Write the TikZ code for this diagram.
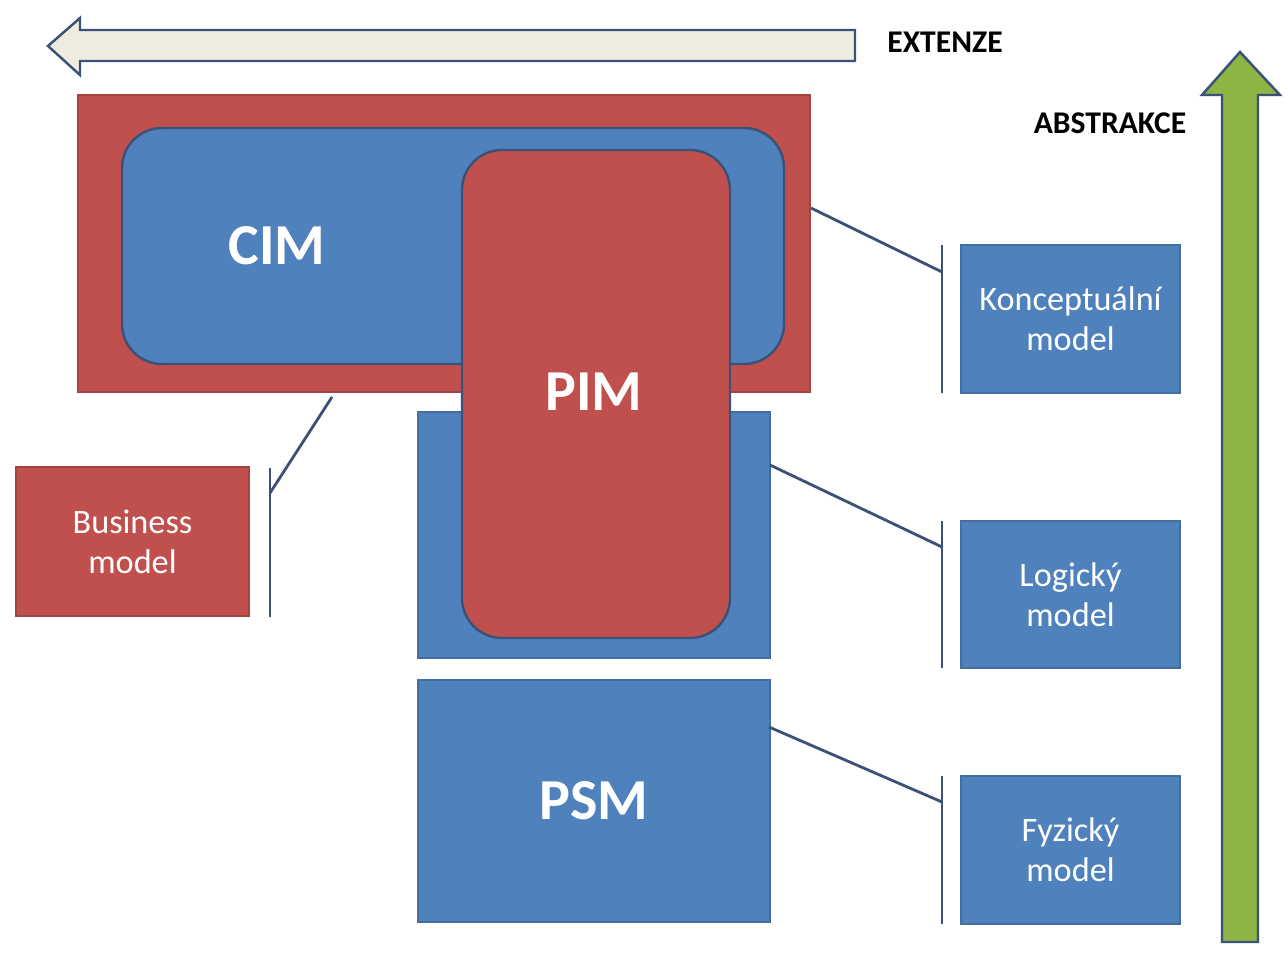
\documentclass[tikz,border=0pt]{standalone}
\usepackage{fontspec}
\setmainfont{Carlito}
\usetikzlibrary{fit}
\definecolor{cred}{HTML}{C0504D}
\definecolor{cblue}{HTML}{4F81BD}
\definecolor{navy}{HTML}{3B5178}
\definecolor{beige}{HTML}{EEECE1}
\definecolor{agreen}{HTML}{8DB444}
\begin{document}
\begin{tikzpicture}[x=0.02cm,y=-0.02cm,
  box/.style={inner sep=0pt, line width=0.6pt},
  redbox/.style={box, fill=cred, draw=cred!85!black},
  bluebox/.style={box, fill=cblue, draw=cblue!85!black},
  rnd/.style={rounded corners=0.8cm, line width=1.4pt, draw=navy},
  big/.style={text=white, font=\bfseries\fontsize{33}{36}\selectfont},
  lbl/.style={text=white, align=center, font=\fontsize{19.5}{22.7}\selectfont},
  head/.style={text=black, font=\bfseries\fontsize{18}{20}\selectfont},
  conn/.style={draw=navy, line width=1.6pt},
  blockarrow/.style={draw=navy, line width=1.4pt, line join=miter}]
\useasboundingbox (0,0) rectangle (1288,956);
% direction arrows
\draw[blockarrow, fill=beige] (855,30) -- (80,30) -- (80,18) -- (48,46) -- (80,75) -- (80,61) -- (855,61) -- cycle;
\node[head] (ext) at (945,42) {EXTENZE};
\draw[blockarrow, fill=agreen] (1222,942) -- (1222,95) -- (1202,95) -- (1240,52) -- (1280,95) -- (1258,95) -- (1258,942) -- cycle;
\node[head] (abs) at (1110,123) {ABSTRAKCE};
% CIM
\node[redbox, fit={(78,95) (810,392)}] (cimo) {};
\node[bluebox, rnd, fit={(122,128) (784,364)}] (cimi) {};
\node[big] (cimt) at (277,246) {CIM};
% PIM
\node[bluebox, fit={(418,412) (770,658)}] (pimo) {};
\node[redbox, rnd, fit={(462,150) (730,638)}] (pimi) {};
\node[big] (pimt) at (594,392) {PIM};
% PSM
\node[bluebox, fit={(418,680) (770,922)}] (psm) {};
\node[big] (psmt) at (594,801) {PSM};
% side boxes
\node[redbox, fit={(16,467) (249,616)}] (bm) {};
\node[bluebox, fit={(961,245) (1180,393)}] (km) {};
\node[bluebox, fit={(961,521) (1180,668)}] (lm) {};
\node[bluebox, fit={(961,776) (1180,924)}] (fm) {};
\node[lbl] (bmt) at (bm.center) {Business\\model};
\node[lbl] (kmt) at (km.center) {Konceptuální\\model};
\node[lbl] (lmt) at (lm.center) {Logický\\model};
\node[lbl] (fmt) at (fm.center) {Fyzický\\model};
% brackets
\coordinate (bt) at (270,468); \coordinate (bb) at (270,617); \coordinate (bj) at (270,493); \coordinate (bs) at (332,397);
\coordinate (kt) at (942,245); \coordinate (kb) at (942,393); \coordinate (kj) at (942,272); \coordinate (ks) at (811,208);
\coordinate (lt) at (942,521); \coordinate (lb) at (942,668); \coordinate (lj) at (942,547); \coordinate (ls) at (770,465);
\coordinate (ft) at (942,776); \coordinate (fb) at (942,924); \coordinate (fj) at (942,802); \coordinate (fs) at (769,727);
\draw[conn] (bt) -- (bb); \draw[conn] (bs) -- (bj);
\draw[conn] (kt) -- (kb); \draw[conn] (ks) -- (kj);
\draw[conn] (lt) -- (lb); \draw[conn] (ls) -- (lj);
\draw[conn] (ft) -- (fb); \draw[conn] (fs) -- (fj);
\end{tikzpicture}
\end{document}
